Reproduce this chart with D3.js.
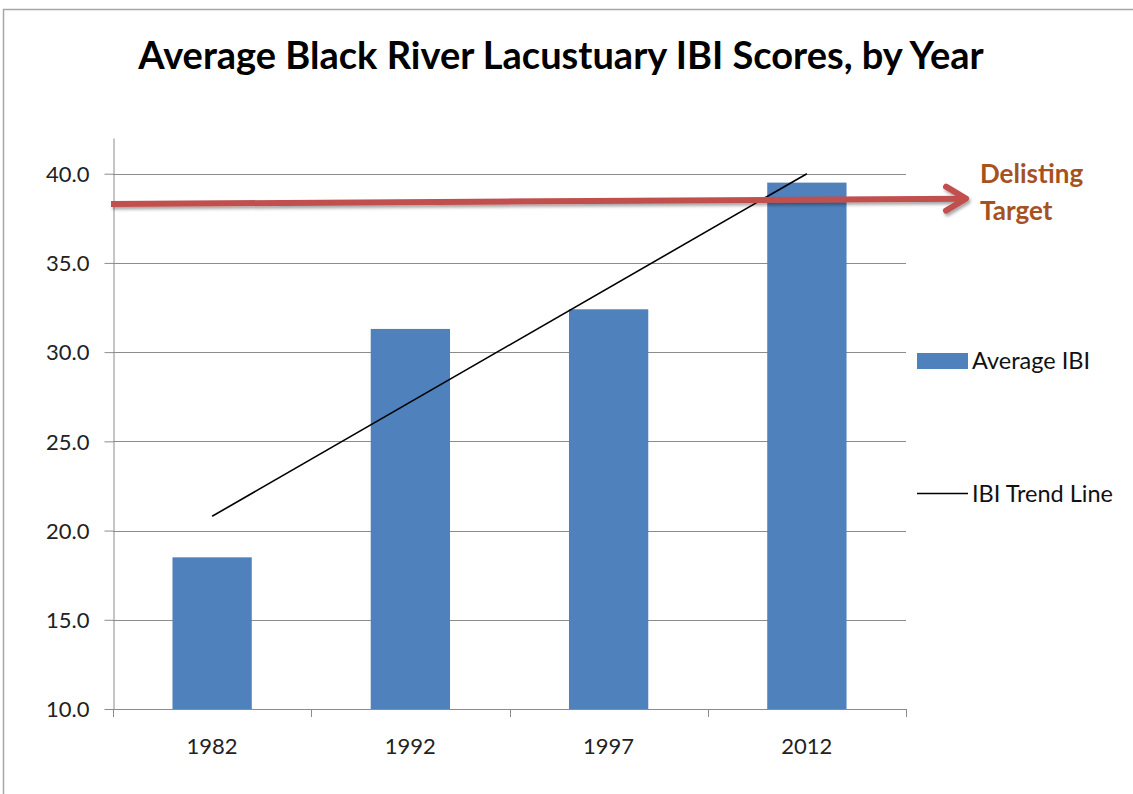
<!DOCTYPE html>
<html>
<head>
<meta charset="utf-8">
<script src="https://cdn.jsdelivr.net/npm/d3@7"></script>
<style>
  body { margin: 0; background: #fff; }
  text { font-family: "Lato", sans-serif; }
</style>
</head>
<body>
<div id="chart"></div>
<script>
// chart data
var years = ["1982", "1992", "1997", "2012"];
var avgIBI = [18.5, 31.3, 32.4, 39.5];
var trendEnds = [20.8, 40.0];      // trend line value at first and last year
var targetEnds = [38.3, 38.6];     // delisting target arrow, left and right
var yTicks = [10, 15, 20, 25, 30, 35, 40];

var svgWidth = 1133;
var svgHeight = 794;

var plot = { left: 113, right: 906, top: 138, bottom: 709 };

var svg = d3.select("#chart")
  .append("svg")
  .attr("width", svgWidth)
  .attr("height", svgHeight);

// outer chart border
svg.append("rect")
  .attr("x", 3.5)
  .attr("y", 9.5)
  .attr("width", svgWidth)
  .attr("height", svgHeight)
  .attr("fill", "none")
  .attr("stroke", "#a6a6a6")
  .attr("stroke-width", 1.5);

var defs = svg.append("defs");
var shadow = defs.append("filter")
  .attr("id", "shadow")
  .attr("x", "-5%").attr("y", "-50%")
  .attr("width", "110%").attr("height", "200%");
shadow.append("feDropShadow")
  .attr("dx", 1.5).attr("dy", 2.5)
  .attr("stdDeviation", 1.8)
  .attr("flood-color", "#000")
  .attr("flood-opacity", 0.35);

// scales
var x = d3.scaleBand()
  .domain(years)
  .range([plot.left, plot.right])
  .paddingInner(0.6)
  .paddingOuter(0.3);

var y = d3.scaleLinear()
  .domain([10, 42])
  .range([plot.bottom, plot.top]);

// title
svg.append("text")
  .attr("x", 561)
  .attr("y", 69)
  .attr("text-anchor", "middle")
  .attr("font-size", "38px")
  .attr("font-weight", "bold")
  .attr("fill", "#000")
  .text("Average Black River Lacustuary IBI Scores, by Year");

// gridlines
svg.append("g")
  .selectAll("line")
  .data(yTicks)
  .enter()
  .append("line")
  .attr("x1", plot.left)
  .attr("x2", plot.right)
  .attr("y1", d => Math.round(y(d)) + 0.5)
  .attr("y2", d => Math.round(y(d)) + 0.5)
  .attr("stroke", "#8c8c8c")
  .attr("stroke-width", 1);

// y axis
var leftAxis = d3.axisLeft(y)
  .tickValues(yTicks)
  .tickFormat(d3.format(".1f"))
  .tickSizeInner(9)
  .tickSizeOuter(0)
  .tickPadding(15);

var yAxis = svg.append("g")
  .attr("transform", `translate(${plot.left + 0.5}, 0)`)
  .call(leftAxis);
yAxis.selectAll("path, line").attr("stroke", "#8c8c8c");
yAxis.selectAll("text")
  .attr("font-size", "22px")
  .attr("fill", "#222")
  .attr("dy", "0.35em")
  .style("font-family", "Lato, sans-serif");

// bars
svg.append("g")
  .selectAll("rect")
  .data(avgIBI)
  .enter()
  .append("rect")
  .attr("x", (d, i) => x(years[i]))
  .attr("y", d => y(d))
  .attr("width", x.bandwidth())
  .attr("height", d => y(10) - y(d))
  .attr("fill", "#4f81bd");

// x axis baseline and category ticks
var xAxisG = svg.append("g");
xAxisG.append("line")
  .attr("x1", plot.left)
  .attr("x2", plot.right)
  .attr("y1", y(10) + 0.5)
  .attr("y2", y(10) + 0.5)
  .attr("stroke", "#8c8c8c");
xAxisG.selectAll(".xtick")
  .data(d3.range(years.length + 1))
  .enter()
  .append("line")
  .attr("class", "xtick")
  .attr("x1", i => Math.round(plot.left + i * x.step()) + 0.5)
  .attr("x2", i => Math.round(plot.left + i * x.step()) + 0.5)
  .attr("y1", y(10))
  .attr("y2", y(10) + 8)
  .attr("stroke", "#8c8c8c");
xAxisG.selectAll(".xlabel")
  .data(years)
  .enter()
  .append("text")
  .attr("class", "xlabel")
  .attr("x", d => x(d) + x.bandwidth() / 2)
  .attr("y", 754)
  .attr("text-anchor", "middle")
  .attr("font-size", "22px")
  .attr("fill", "#222")
  .text(d => d);

// trend line
var xFirst = x(years[0]) + x.bandwidth() / 2;
var xLast = x(years[years.length - 1]) + x.bandwidth() / 2;
svg.append("line")
  .attr("x1", xFirst)
  .attr("y1", y(trendEnds[0]))
  .attr("x2", xLast)
  .attr("y2", y(trendEnds[1]))
  .attr("stroke", "#000")
  .attr("stroke-width", 1.6);

// delisting target arrow
var arrowStart = plot.left - 2;
var arrowEnd = plot.right + 60;
var arrow = svg.append("g").attr("filter", "url(#shadow)");
arrow.append("line")
  .attr("x1", arrowStart)
  .attr("y1", y(targetEnds[0]))
  .attr("x2", arrowEnd - 3)
  .attr("y2", y(targetEnds[1]))
  .attr("stroke", "#c0504d")
  .attr("stroke-width", 6);
arrow.append("path")
  .attr("d", `M${arrowEnd - 20},${y(targetEnds[1]) - 12} L${arrowEnd},${y(targetEnds[1])} L${arrowEnd - 20},${y(targetEnds[1]) + 12}`)
  .attr("fill", "none")
  .attr("stroke", "#c0504d")
  .attr("stroke-width", 6)
  .attr("stroke-linecap", "round")
  .attr("stroke-linejoin", "round");

var label = svg.append("text")
  .attr("x", 980)
  .attr("font-size", "26px")
  .attr("font-weight", "bold")
  .attr("fill", "#a5521f");
label.append("tspan").attr("x", 980).attr("y", 183).text("Delisting");
label.append("tspan").attr("x", 980).attr("y", 220).text("Target");

// legend
var legend = svg.append("g");
legend.append("rect")
  .attr("x", 917)
  .attr("y", 353)
  .attr("width", 51)
  .attr("height", 16)
  .attr("fill", "#4f81bd");
legend.append("text")
  .attr("x", 972)
  .attr("y", 369)
  .attr("font-size", "23.5px")
  .attr("fill", "#111")
  .text("Average IBI");
legend.append("line")
  .attr("x1", 917)
  .attr("x2", 968)
  .attr("y1", 493.5)
  .attr("y2", 493.5)
  .attr("stroke", "#000")
  .attr("stroke-width", 1.6);
legend.append("text")
  .attr("x", 972)
  .attr("y", 502)
  .attr("font-size", "23.5px")
  .attr("fill", "#111")
  .text("IBI Trend Line");
</script>
</body>
</html>
